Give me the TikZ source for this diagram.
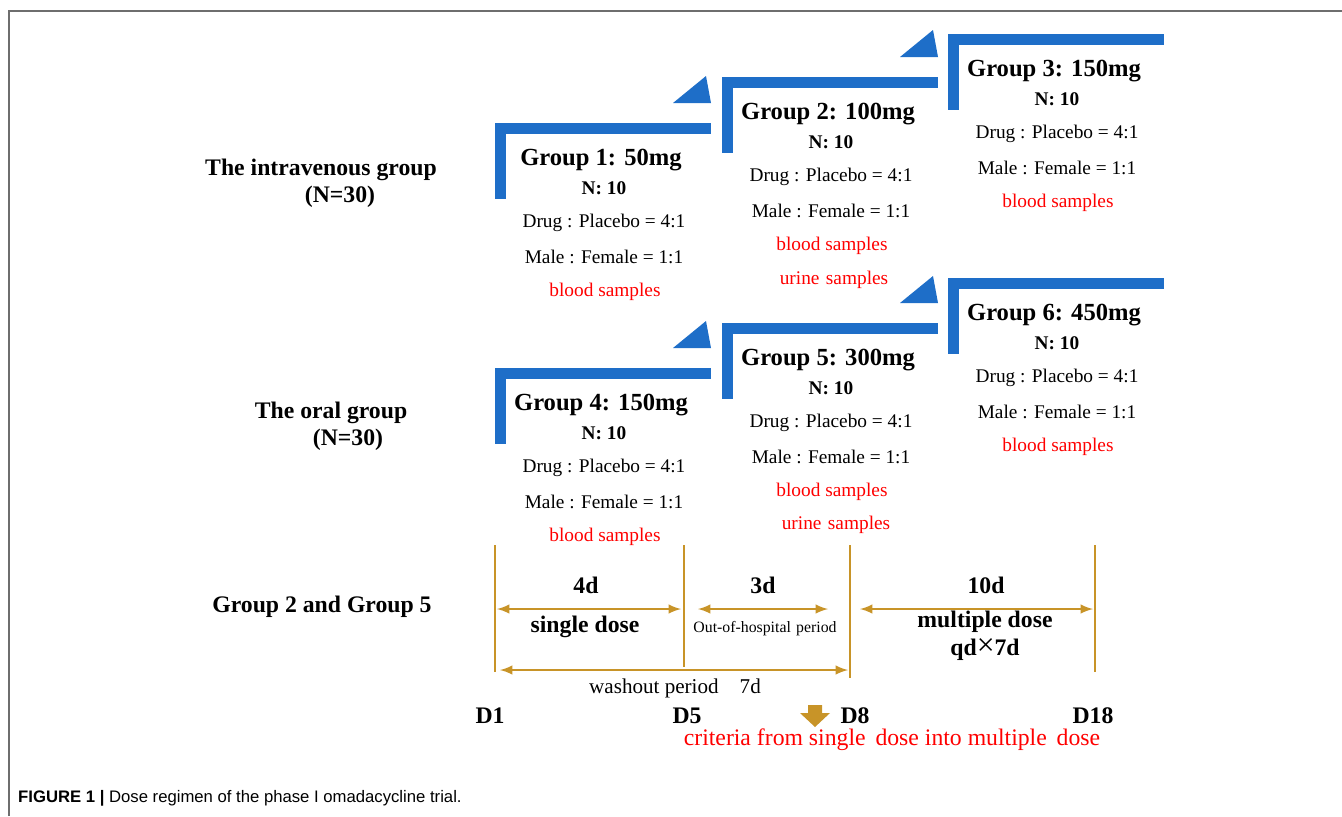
\documentclass[tikz,border=0pt]{standalone}
\usepackage{fontspec}
\setmainfont{Liberation Serif}
\newfontfamily\capfont{Liberation Sans}
\usetikzlibrary{calc}
\usetikzlibrary{positioning}

\definecolor{stepblue}{RGB}{30,110,200}
\definecolor{gold}{RGB}{200,148,40}
\definecolor{framegray}{RGB}{110,110,110}

\tikzset{
  grouptitle/.style={font=\fontsize{14}{16}\selectfont\bfseries},
  groupn/.style={font=\fontsize{11}{13}\selectfont\bfseries},
  groupinfo/.style={font=\fontsize{11}{13}\selectfont},
  sampletext/.style={font=\fontsize{11}{13}\selectfont, text=red},
  rowlabel/.style={font=\fontsize{13.5}{16}\selectfont\bfseries},
  daylabel/.style={font=\fontsize{13.5}{16}\selectfont\bfseries},
  dayline/.style={gold, line width=1.2pt},
  span/.style={gold, line width=1.4pt, latex-latex},
}

% one dose step: name, x, y, title
\newcommand{\dosegroup}[4]{%
  \begin{scope}[shift={(#2,#3)}]
    \fill[stepblue] (0,0) rectangle (11,76);
    \fill[stepblue] (0,0) rectangle (216,11);
    \node[grouptitle] (#1-title) at (106,37) {#4};
    \node[groupn] (#1-n) at (109,65) {N: 10};
    \node[groupinfo] (#1-drug) at (109,100) {Drug : Placebo = 4:1};
    \node[groupinfo] (#1-sex) at (109,134) {Male : Female = 1:1};
    \node[sampletext] (#1-blood) at (110,169) {blood samples};
  \end{scope}}

\begin{document}
\begin{tikzpicture}[x=0.02cm, y=-0.02cm]
    \useasboundingbox (0,0) rectangle (1342,816);

    % frame
    \draw[framegray, line width=0.6pt] (9,816) -- (9,11) -- (1342,11);

    % row labels
    \node[rowlabel] (iv-label) at (321,170) {The intravenous group};
    \node[rowlabel] (iv-n) at (340,197) {(N=30)};
    \node[rowlabel] (oral-label) at (331,413) {The oral group};
    \node[rowlabel] (oral-n) at (348,440) {(N=30)};
    \node[rowlabel] (g25-label) at (322,607) {Group 2 and Group 5};

    % dose steps
    \foreach \x/\y in {495/123, 722/77, 495/368, 722/323}
        \fill[stepblue] (\x+178,\y-20) -- (\x+216,\y-20) -- (\x+211,\y-47) -- cycle;
    \dosegroup{g1}{495}{123}{Group 1: 50mg}
    \dosegroup{g2}{722}{77}{Group 2: 100mg}
    \dosegroup{g3}{948}{34}{Group 3: 150mg}
    \dosegroup{g4}{495}{368}{Group 4: 150mg}
    \dosegroup{g5}{722}{323}{Group 5: 300mg}
    \dosegroup{g6}{948}{278}{Group 6: 450mg}
    \node[sampletext] (g2-urine) at (834,280) {urine\,\,samples};
    \node[sampletext] (g5-urine) at (836,525) {urine\,\,samples};

    % timeline
    \coordinate (d1top) at (495,545);
    \coordinate (d1bot) at (495,672);
    \coordinate (d5top) at (684,545);
    \coordinate (d5bot) at (684,667);
    \coordinate (d8top) at (850,545);
    \coordinate (d8bot) at (850,678);
    \coordinate (d18top) at (1095,545);
    \coordinate (d18bot) at (1095,672);
    \foreach \d in {d1, d5, d8, d18}
        \draw[dayline] (\d top) -- (\d bot);

    \draw[span] ($(d1top)+(2,64)$) -- ($(d5top)+(-3,64)$);
    \draw[span] ($(d5top)+(14,64)$) -- ($(d8top)+(-22,64)$);
    \draw[span] ($(d8top)+(10,64)$) -- ($(d18top)+(-2,64)$);
    \draw[span] ($(d1bot)+(5,-2)$) -- ($(d8bot)+(-2,-8)$);

    \node[daylabel] (span4) at (586,585) {4d};
    \node[daylabel] (span3) at (763,585) {3d};
    \node[daylabel] (span10) at (986,585) {10d};
    \node[daylabel] (single) at (585,627) {single dose};
    \node[font=\fontsize{9}{11}\selectfont] (outhosp) at (765,629) {Out-of-hospital\,\,period};
    \node[daylabel] (multiple) at (985,622) {multiple dose};
    \node[daylabel] (qd) at (985,650) {qd{\fontsize{18}{18}\selectfont\mdseries ×}7d};
    \node[font=\fontsize{12}{14}\selectfont] (washout) at (675,688) {washout period\quad 7d};

    \node[daylabel] (d1) at (490,716) {D1};
    \node[daylabel] (d5) at (687,716) {D5};
    \node[daylabel] (d8) at (855,716) {D8};
    \node[daylabel] (d18) at (1093,716) {D18};

    % switch arrow
    \fill[gold] (808,705) -- (822,705) -- (822,713) -- (830,713) -- (815,727)
        -- (800,713) -- (808,713) -- cycle;
    \node[font=\fontsize{13.5}{16}\selectfont, text=red] (criteria) at (892,740)
        {criteria from single\, dose into multiple\, dose};

    % caption
    \node[anchor=west, font=\capfont\fontsize{9.5}{11}\selectfont] (caption) at (12,798)
        {\textbf{FIGURE 1 |} Dose regimen of the phase I omadacycline trial.};
\end{tikzpicture}
\end{document}
